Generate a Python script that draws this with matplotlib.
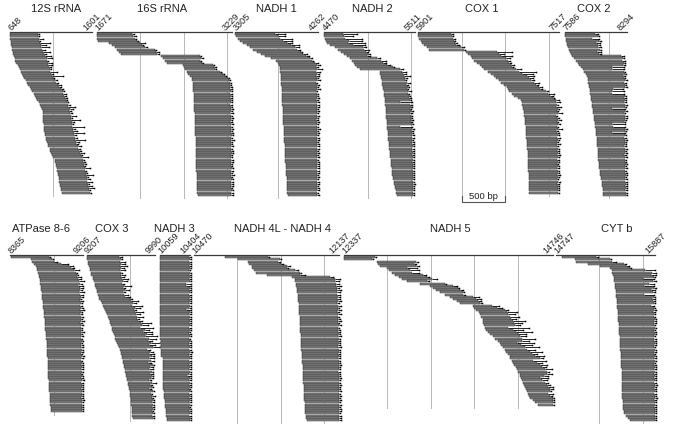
import matplotlib
matplotlib.use('Agg')
import matplotlib.pyplot as plt
import numpy as np

plt.rcParams['font.family'] = ['Liberation Sans', 'DejaVu Sans']

# ---------------- data (bp positions of reads / contigs per gene) ----------------
# 12S rRNA 648-1601
s_12s = [648, 650, 655, 660, 662, 668, 672, 678, 684, 690,
         698, 706, 716, 728, 740, 752, 764, 776, 788, 798,
         815, 832, 848, 864, 880, 896, 912, 926, 940, 954,
         968, 982, 996, 1008, 1018, 1028, 1030, 1032, 1034, 1036,
         1038, 1040, 1042, 1046, 1050, 1054, 1058, 1064, 1070, 1076,
         1085, 1096, 1108, 1118, 1128, 1140, 1152, 1166, 1172, 1178,
         1184, 1190, 1196, 1202, 1208, 1212, 1218, 1222, 1226, 1230,
         1236, 1240, 1246]
e_12s = [970, 975, 990, 985, 995, 1005, 1010, 1025, 1030, 1045,
         1060, 1074, 1080, 1090, 1095, 1105, 1108, 1118, 1122, 1131,
         1150, 1172, 1188, 1205, 1222, 1240, 1258, 1262, 1278, 1285,
         1298, 1305, 1318, 1325, 1338, 1336, 1348, 1350, 1356, 1352,
         1362, 1365, 1370, 1378, 1380, 1388, 1392, 1400, 1405, 1412,
         1418, 1430, 1440, 1452, 1460, 1472, 1478, 1490, 1494, 1502,
         1505, 1514, 1518, 1524, 1528, 1536, 1538, 1544, 1548, 1554,
         1558, 1564, 1568]
x_12s = [20, 15, 40, 15, 120, 60, 90, 30, 80, 20,
         70, 60, 15, 50, 40, 15, 20, 80, 30, 130,
         15, 20, 15, 40, 15, 20, 15, 30, 15, 20,
         15, 15, 20, 80, 40, 15, 20, 60, 15, 110,
         30, 15, 140, 20, 40, 120, 15, 20, 110, 30,
         15, 40, 15, 20, 50, 15, 70, 15, 20, 30,
         15, 60, 15, 20, 80, 15, 30, 50, 15, 40,
         60, 15, 20]

# 16S rRNA 1671-3229
s_16s = [1671, 1675, 1680, 1690, 1820, 1850, 1880, 1912, 1935, 1958,
         2418, 2430, 2453, 2476, 2660, 2672, 2683, 2706, 2725, 2745,
         2764, 2770, 2775, 2778, 2780, 2782, 2784, 2786, 2786, 2788,
         2790, 2790, 2792, 2794, 2794, 2796, 2798, 2798, 2800, 2800,
         2802, 2804, 2804, 2806, 2806, 2808, 2808, 2810, 2810, 2812,
         2812, 2812, 2814, 2814, 2816, 2816, 2816, 2818, 2818, 2818,
         2820, 2820, 2820, 2822, 2822, 2822, 2824, 2824, 2826, 2826,
         2828, 2828, 2830, 2832]
e_16s = [2074, 2090, 2108, 2131, 2166, 2190, 2223, 2338, 2350, 2372,
         2856, 2870, 2856, 2880, 3005, 3020, 3028, 3086, 3120, 3143,
         3178, 3190, 3200, 3205, 3210, 3200, 3212, 3208, 3215, 3205,
         3212, 3218, 3210, 3215, 3220, 3212, 3208, 3218, 3222, 3215,
         3210, 3220, 3216, 3222, 3212, 3218, 3224, 3215, 3220, 3212,
         3218, 3222, 3214, 3220, 3224, 3216, 3212, 3220, 3222, 3218,
         3215, 3224, 3220, 3216, 3222, 3218, 3224, 3220, 3215, 3222,
         3218, 3224, 3220, 3222]
x_16s = [30, 40, 15, 20, 60, 15, 30, 20, 40, 15,
         15, 25, 15, 15, 20, 30, 15, 15, 20, 15,
         15, 20, 15, 15, 20, 30, 15, 15, 15, 20,
         15, 15, 15, 15, 25, 15, 30, 15, 15, 15,
         20, 15, 15, 15, 15, 25, 15, 15, 30, 15,
         15, 15, 20, 15, 15, 15, 15, 25, 15, 15,
         15, 20, 15, 15, 30, 15, 15, 15, 20, 15,
         15, 15, 20, 15]

# NADH 1 3305-4262
s_n1 = [3305, 3315, 3340, 3362, 3400, 3440, 3480, 3512, 3560, 3600,
        3650, 3720, 3780, 3800, 3815,
        3822, 3824, 3826, 3828, 3830, 3832, 3834, 3836, 3838, 3840,
        3841, 3842, 3844, 3845, 3846, 3848, 3849, 3850, 3852, 3853,
        3854, 3856, 3857, 3858, 3860, 3861, 3862, 3864, 3865, 3866,
        3868, 3869, 3870, 3872, 3873, 3874, 3876, 3877, 3878, 3880,
        3881, 3882, 3884, 3885, 3886, 3888, 3890, 3892, 3894, 3896,
        3898, 3899, 3900, 3902, 3903, 3905, 3906, 3908, 3912]
e_n1 = [3765, 3800, 3820, 3860, 3900, 3950, 3995, 4020, 4060, 4087,
        4120, 4168, 4190, 4220, 4248,
        4235, 4242, 4238, 4248, 4240, 4244, 4250, 4238, 4246, 4242,
        4250, 4236, 4248, 4244, 4252, 4240, 4246, 4250, 4242, 4248,
        4252, 4244, 4250, 4246, 4240, 4252, 4248, 4244, 4250, 4246,
        4252, 4242, 4248, 4250, 4246, 4252, 4244, 4250, 4248, 4252,
        4246, 4250, 4244, 4252, 4248, 4250, 4252, 4248, 4250, 4246,
        4252, 4248, 4250, 4252, 4246, 4250, 4252, 4248, 4250]
x_n1 = [120, 80, 140, 100, 60, 90, 40, 30, 20, 50,
        30, 20, 15, 40, 30, 20, 60, 40, 20, 30,
        15, 30, 15, 20, 15, 30, 15, 15, 20, 15,
        15, 20, 15, 30, 15, 15, 15, 25, 15, 15,
        20, 15, 15, 30, 15, 15, 15, 20, 15, 15,
        15, 25, 15, 15, 20, 15, 15, 15, 15, 20,
        15, 15, 20, 15, 15, 15, 15, 20, 15, 15,
        15, 20, 15, 15]

# NADH 2 4470-5511
s_n2 = [4470, 4472, 4482, 4490, 4505, 4539, 4596, 4630, 4660, 4700,
        4734, 4769, 4790, 4810, 4826, 4850, 4884,
        5114, 5118, 5123, 5128, 5132, 5137, 5141, 5146, 5150, 5155,
        5159, 5163, 5168, 5172, 5174, 5176, 5178, 5180, 5182, 5184,
        5186, 5188, 5190, 5192, 5194, 5196, 5198, 5200, 5202, 5204,
        5206, 5209, 5212, 5215, 5218, 5221, 5224, 5227, 5230, 5233,
        5236, 5239, 5242, 5245, 5248, 5251, 5254, 5257, 5260, 5264,
        5270, 5276, 5282, 5288, 5294, 5300, 5310]
e_n2 = [4688, 4700, 4712, 4760, 4746, 4804, 4918, 4930, 4950, 4976,
        4960, 5080, 5120, 5148, 5194, 5260, 5344,
        5367, 5380, 5395, 5405, 5400, 5420, 5415, 5430, 5425, 5440,
        5436, 5445, 5450, 5455, 5344, 5460, 5465, 5458, 5470, 5462,
        5472, 5468, 5475, 5470, 5478, 5344, 5480, 5474, 5482, 5478,
        5484, 5480, 5486, 5482, 5488, 5484, 5486, 5490, 5485, 5488,
        5490, 5486, 5490, 5488, 5492, 5490, 5488, 5492, 5490, 5494,
        5490, 5492, 5494, 5490, 5494, 5492, 5494]
x_n2 = [160, 100, 200, 150, 190, 140, 40, 60, 30, 20,
        40, 30, 60, 40, 30, 20, 30, 40, 30, 60,
        20, 15, 40, 15, 20, 15, 30, 15, 15, 20,
        15, 140, 20, 15, 15, 25, 15, 15, 15, 20,
        15, 15, 140, 20, 15, 15, 25, 15, 15, 15,
        20, 15, 15, 15, 15, 20, 15, 15, 15, 20,
        15, 15, 15, 20, 15, 15, 15, 15, 20, 15,
        15, 15, 15, 15]

# COX 1 5901-7517
s_c1 = [5901, 5905, 5912, 5936, 5950, 5970, 6000, 6028,
        6453, 6480, 6510, 6522, 6550, 6580, 6610, 6637,
        6660, 6700, 6740, 6775, 6800, 6830, 6860, 6890, 6924, 6935,
        6948, 6980, 7010, 7050, 7086,
        7095, 7100, 7105, 7110, 7114, 7118, 7122, 7126, 7130, 7134,
        7136, 7138, 7140, 7142, 7144, 7146, 7148, 7150, 7152, 7154,
        7156, 7158, 7160, 7162, 7164, 7164, 7166, 7166, 7168, 7168,
        7170, 7170, 7172, 7172, 7174, 7174, 7176, 7176, 7178, 7178,
        7180, 7180]
e_c1 = [6280, 6290, 6300, 6315, 6330, 6338, 6400, 6430,
        6810, 6830, 6850, 6913, 6930, 6950, 6970, 6982,
        7028, 7060, 7100, 7150, 7178, 7200, 7230, 7260, 7292, 7300,
        7373, 7400, 7420, 7450, 7488,
        7490, 7500, 7485, 7505, 7495, 7510, 7488, 7500, 7508, 7495,
        7505, 7498, 7510, 7490, 7502, 7506, 7496, 7510, 7500, 7504,
        7494, 7508, 7500, 7505, 7498, 7510, 7502, 7506, 7496, 7508,
        7500, 7505, 7510, 7502, 7506, 7500, 7508, 7504, 7510, 7506,
        7508, 7510]
x_c1 = [20, 15, 30, 15, 20, 40, 30, 15, 170, 60,
        130, 40, 30, 20, 40, 15, 60, 200, 120, 80,
        40, 30, 60, 20, 40, 30, 20, 60, 30, 15,
        30, 40, 15, 60, 20, 15, 50, 15, 20, 40,
        15, 30, 15, 50, 15, 20, 15, 40, 15, 15,
        30, 15, 15, 20, 15, 40, 15, 15, 20, 15,
        15, 20, 15, 15, 30, 15, 15, 20, 15, 15,
        20, 15, 15]

# COX 2 7586-8294
s_c2 = [7586, 7588, 7592, 7598, 7604, 7612, 7620, 7630, 7640, 7650,
        7666, 7690, 7710, 7730, 7750, 7770, 7790, 7810, 7825, 7839,
        7845, 7850, 7855, 7860, 7864, 7868, 7872, 7876, 7880, 7884,
        7888, 7892, 7896, 7900, 7904, 7908, 7912, 7916, 7920, 7924,
        7928, 7932, 7936, 7940, 7944,
        7946, 7948, 7950, 7952, 7954, 7956, 7958, 7960, 7962, 7964,
        7966, 7968, 7970, 7972, 7975,
        7978, 7982, 7986, 7990, 7994, 7998, 8002, 8006, 8010, 8014,
        8018, 8020, 8022, 8023]
e_c2 = [7930, 7960, 7900, 7980, 7940, 7970, 7960, 7990, 7950, 7980,
        8230, 8250, 8240, 8265, 8255, 8130, 8127, 8260, 8270, 8250,
        8265, 8275, 8260, 8270, 8280, 8138, 8130, 8127, 8270, 8265,
        8275, 8260, 8280, 8270, 8130, 8275, 8265, 8280, 8270, 8275,
        8260, 8127, 8135, 8280, 8270, 8130, 8275, 8265, 8280, 8270,
        8275, 8268, 8280, 8272, 8278, 8265, 8280, 8275, 8270, 8282,
        8276, 8280, 8272, 8278, 8282, 8275, 8280, 8278, 8284, 8280,
        8282, 8280, 8284, 8282]
x_c2 = [40, 20, 80, 15, 50, 20, 40, 15, 50, 20,
        30, 15, 40, 15, 20, 130, 140, 15, 20, 30,
        15, 20, 30, 15, 15, 120, 130, 140, 15, 20,
        15, 30, 15, 15, 140, 20, 15, 15, 30, 15,
        20, 150, 140, 15, 15, 140, 15, 20, 15, 15,
        15, 20, 15, 15, 15, 20, 15, 15, 20, 15,
        15, 15, 20, 15, 15, 15, 15, 20, 15, 15,
        15, 15, 15, 15]

# ATPase 8-6 8365-9206
s_at = [8376, 8606, 8620, 8640, 8664, 8670, 8680, 8690, 8698,
        8700, 8705, 8710, 8714, 8718, 8722, 8726, 8730, 8733, 8736,
        8738, 8741, 8744, 8747, 8750, 8753, 8756, 8758, 8760, 8762,
        8764, 8766, 8768, 8770, 8772, 8775, 8778, 8781, 8784, 8787,
        8790, 8791, 8792, 8793, 8794, 8795, 8796, 8797, 8798, 8799,
        8800, 8801, 8802, 8803, 8804, 8805, 8806, 8808, 8810, 8812,
        8814, 8816, 8818, 8820, 8822, 8824, 8826, 8828, 8830, 8832, 8834, 8836]
e_at = [8814, 8848, 8871, 8950, 9044, 9066, 9100, 9120, 9136,
        9136, 9150, 9160, 9170, 9150, 9165, 9175, 9160, 9170, 9180,
        9165, 9175, 9180, 9170, 9185, 9175, 9180, 9170, 9185, 9178,
        9182, 9175, 9185, 9180, 9178, 9186, 9180, 9184, 9176, 9188,
        9182, 9186, 9180, 9188, 9184, 9180, 9190, 9185, 9182, 9188,
        9186, 9190, 9184, 9188, 9182, 9190, 9186, 9188, 9184, 9190,
        9188, 9186, 9190, 9188, 9192, 9186, 9190, 9188, 9192, 9190, 9188, 9193]
x_at = [15, 15, 30, 80, 40, 30, 60, 20, 15, 40,
        30, 60, 20, 50, 40, 15, 60, 30, 20, 15,
        30, 15, 20, 15, 40, 15, 20, 15, 15, 30,
        15, 20, 15, 15, 25, 15, 15, 20, 15, 15,
        15, 20, 15, 15, 15, 25, 15, 15, 20, 15,
        15, 15, 20, 15, 15, 15, 25, 15, 15, 15,
        20, 15, 15, 15, 15, 20, 15, 15, 15, 15,
        15]

# COX 3 9207-9990
s_c3 = [9207, 9212, 9220, 9228, 9236, 9244, 9250, 9256, 9264, 9276,
        9284, 9292, 9300, 9308, 9316, 9324, 9332, 9340, 9348, 9356,
        9368, 9380, 9392, 9404, 9416, 9428, 9440, 9452, 9464, 9472,
        9480, 9488, 9496, 9504, 9512, 9520, 9530, 9540, 9550, 9560, 9572, 9586,
        9592, 9598, 9604, 9610, 9616, 9622, 9628, 9634, 9640, 9646, 9652, 9658,
        9664, 9670, 9676, 9682, 9688, 9694, 9698, 9702, 9706, 9710,
        9714, 9717, 9720, 9723, 9726, 9728, 9730, 9732, 9734, 9736]
e_c3 = [9586, 9600, 9590, 9609, 9595, 9605, 9590, 9600, 9609,
        9609, 9620, 9630, 9615, 9640, 9625, 9644, 9630, 9640, 9644,
        9702, 9720, 9740, 9730, 9760, 9750, 9770, 9780, 9793, 9785,
        9800, 9830, 9850, 9820, 9880, 9860, 9900, 9880, 9930, 9910, 9950, 9930, 9966,
        9900, 9940, 9920, 9960, 9930, 9950, 9910, 9966, 9940, 9920, 9955,
        9935, 9960, 9945, 9925, 9962, 9940, 9955, 9930, 9966, 9950, 9960,
        9960, 9966, 9962, 9966, 9964, 9966, 9962, 9966, 9964, 9966]
x_c3 = [30, 20, 60, 40, 80, 30, 60, 20, 40, 30,
        60, 40, 20, 80, 30, 50, 20, 40, 60, 30,
        80, 40, 120, 60, 30, 90, 40, 60, 30, 50,
        120, 60, 150, 40, 100, 60, 140, 80, 50, 120,
        60, 90, 40, 30, 60, 20, 50, 30, 40, 20,
        30, 50, 20, 40, 15, 30, 20, 40, 15, 20,
        15, 20, 15, 30, 15, 15, 20, 15, 15, 15,
        15, 15, 15, 15]

# NADH 3 10059-10404
s_n3 = [10059, 10060, 10059, 10061, 10059, 10060, 10062, 10059, 10060, 10061,
        10059, 10060, 10062, 10060, 10059, 10061, 10060, 10062, 10060, 10061,
        10060, 10062, 10061, 10060, 10063, 10061, 10062, 10060, 10063, 10062,
        10061, 10063, 10062, 10064, 10062, 10063, 10064, 10063, 10065, 10064,
        10065, 10064, 10066, 10065, 10068, 10070, 10090, 10092, 10094, 10094,
        10095, 10094, 10096, 10095, 10096, 10097, 10096, 10098, 10097, 10098,
        10099, 10100, 10100, 10102, 10110, 10116, 10118, 10120, 10122, 10124,
        10126, 10128, 10132, 10136, 10140]
e_n3 = [10395, 10400, 10398, 10402, 10396, 10400, 10398, 10403, 10396, 10400,
        10398, 10402, 10355, 10360, 10400, 10396, 10402, 10398, 10400, 10396,
        10402, 10398, 10400, 10396, 10360, 10400, 10398, 10402, 10396, 10400,
        10398, 10402, 10396, 10400, 10398, 10392, 10400, 10396, 10402, 10398,
        10396, 10400, 10398, 10402, 10390, 10396, 10400, 10398, 10402, 10396,
        10400, 10396, 10402, 10398, 10370, 10400, 10396, 10402, 10398, 10400,
        10396, 10402, 10398, 10400, 10396, 10402, 10398, 10400, 10396, 10402,
        10398, 10400, 10396, 10402, 10400]
x_n3 = [15, 10, 15, 10, 20, 15, 10, 15, 20, 10,
        15, 10, 55, 50, 15, 20, 10, 15, 10, 20,
        10, 15, 20, 15, 50, 10, 15, 10, 20, 15,
        15, 10, 20, 15, 10, 20, 15, 10, 15, 20,
        15, 10, 15, 20, 25, 15, 10, 15, 10, 20,
        15, 20, 10, 15, 40, 10, 15, 10, 20, 15,
        10, 15, 20, 10, 15, 10, 15, 20, 10, 15,
        15, 10, 15, 10, 15]

# NADH 4L - NADH 4 10470-12137
s_n4 = [10827, 10976, 11091, 11110, 11137, 11148, 11170, 11194, 11320, 11600,
        11632, 11640, 11645, 11650, 11654, 11658, 11662, 11666, 11670, 11673,
        11676, 11678, 11680, 11682, 11684, 11686, 11688, 11690, 11692, 11694,
        11695, 11696, 11697, 11698, 11699, 11700, 11701, 11702, 11703, 11704,
        11706, 11708, 11710, 11712, 11714, 11716, 11718, 11720, 11722, 11724,
        11725, 11726, 11727, 11728, 11729, 11730, 11732, 11734, 11736, 11738,
        11740, 11741, 11742, 11743, 11744, 11745, 11746, 11747, 11748, 11749,
        11752, 11756, 11760, 11765, 11770]
e_n4 = [11321, 11459, 11436, 11480, 11540, 11540, 11640, 11689, 11689, 12034,
        12092, 12100, 12110, 12105, 12120, 12115, 12125, 12118, 12130, 12122,
        12128, 12120, 12132, 12126, 12130, 12124, 12134, 12128, 12136, 12130,
        12132, 12138, 12128, 12136, 12132, 12140, 12130, 12138, 12134, 12140,
        12136, 12132, 12140, 12138, 12134, 12142, 12136, 12140, 12138, 12142,
        12138, 12142, 12136, 12144, 12140, 12138, 12144, 12140, 12142, 12138,
        12144, 12140, 12142, 12146, 12140, 12144, 12142, 12146, 12144, 12140,
        12146, 12144, 12148, 12146, 12148]
x_n4 = [15, 15, 30, 15, 40, 20, 30, 15, 60, 40,
        60, 40, 30, 60, 20, 50, 30, 40, 20, 30,
        40, 20, 30, 15, 40, 20, 30, 15, 20, 30,
        15, 30, 20, 15, 25, 15, 30, 15, 20, 15,
        20, 30, 15, 15, 25, 15, 20, 15, 15, 20,
        15, 15, 20, 15, 15, 25, 15, 15, 20, 15,
        15, 20, 15, 15, 15, 20, 15, 15, 15, 20,
        15, 15, 15, 15, 15]

# NADH 5 12337-14746
s_n5 = [12337, 12345, 12717, 12735, 12751, 12832, 12860, 12900,
        12930, 12970, 13004, 13062, 13211,
        13326, 13360, 13400, 13441, 13498, 13556, 13600, 13640, 13671,
        13820, 13840, 13860,
        13900, 13910, 13920, 13936, 13936, 13940, 13950,
        13960, 13980, 14000, 14020, 14050, 14080, 14110,
        14131, 14150, 14170, 14190, 14210, 14230, 14246, 14255,
        14269, 14285, 14300, 14315, 14330, 14345, 14361, 14370,
        14380, 14390, 14400, 14410, 14420, 14430, 14442, 14455, 14470,
        14476, 14510, 14540, 14568]
e_n5 = [12694, 12660, 13176, 13150, 13176, 13062, 13100, 13130,
        13246, 13300, 13349, 13292, 13500,
        13600, 13650, 13680, 13706, 13706, 13820, 13860, 13880, 13901,
        14039, 14100, 14188,
        14212, 14230, 14250, 14260, 14280, 14300, 14304,
        14223, 14280, 14320, 14340, 14370, 14384, 14384,
        14326, 14380, 14420, 14450, 14480, 14500, 14540, 14591,
        14510, 14560, 14590, 14620, 14650, 14672, 14672, 14640,
        14591, 14620, 14650, 14680, 14690, 14706, 14706, 14690, 14706,
        14740, 14740, 14740, 14740]
x_n5 = [20, 15, 20, 15, 30, 120, 100, 70, 40, 20,
        60, 30, 20, 40, 15, 30, 20, 30, 80, 60,
        40, 30, 90, 60, 40, 120, 80, 100, 60, 140,
        90, 60, 250, 120, 180, 100, 60, 150, 80, 200,
        120, 160, 90, 140, 60, 100, 40, 150, 60, 90,
        40, 80, 30, 60, 50, 100, 60, 40, 30, 50,
        40, 20, 60, 30, 15, 15, 15, 15]

# CYT b 14747-15887
s_cb = [14816, 14966, 14988, 15115, 15253, 15368,
        15391, 15400, 15408, 15414, 15420, 15424, 15428, 15432, 15436, 15440,
        15443, 15446, 15448, 15450, 15452, 15454, 15456, 15458, 15460, 15462,
        15464, 15466, 15468, 15470, 15472, 15474, 15476, 15478, 15480, 15482,
        15483, 15484, 15486, 15488, 15490, 15492, 15494, 15496, 15498, 15500,
        15501, 15502, 15503, 15504, 15505, 15506, 15507, 15508, 15509, 15510,
        15511, 15512, 15512, 15513, 15514, 15515, 15516, 15516, 15517, 15518,
        15519, 15520, 15522, 15526, 15532, 15540, 15563, 15580, 15598]
e_cb = [15218, 15368, 15400, 15540, 15563, 15598,
        15780, 15860, 15840, 15880, 15750, 15870, 15820, 15760, 15880, 15850,
        15870, 15760, 15880, 15860, 15870, 15880, 15850, 15876, 15884, 15870,
        15880, 15874, 15886, 15878, 15884, 15880, 15886, 15876, 15882, 15886,
        15880, 15884, 15878, 15886, 15882, 15880, 15886, 15884, 15880, 15886,
        15882, 15886, 15880, 15884, 15886, 15882, 15886, 15884, 15888, 15882,
        15886, 15884, 15888, 15886, 15882, 15888, 15884, 15886, 15888, 15884,
        15886, 15888, 15884, 15888, 15886, 15888, 15886, 15888, 15886]
x_cb = [20, 15, 40, 20, 30, 15, 110, 40, 60, 15,
        130, 30, 60, 120, 20, 40, 20, 120, 15, 30,
        20, 15, 30, 15, 15, 20, 15, 15, 15, 20,
        15, 15, 15, 20, 15, 15, 15, 15, 20, 15,
        15, 15, 20, 15, 15, 15, 15, 20, 15, 15,
        15, 15, 15, 20, 15, 15, 15, 15, 20, 15,
        15, 15, 15, 15, 20, 15, 15, 15, 15, 15,
        15, 15, 15, 15, 15]

# gene name, start, end
top_genes = [('12S rRNA', 648, 1601), ('16S rRNA', 1671, 3229), ('NADH 1', 3305, 4262),
             ('NADH 2', 4470, 5511), ('COX 1', 5901, 7517), ('COX 2', 7586, 8294)]
bot_genes = [('ATPase 8-6', 8365, 9206), ('COX 3', 9207, 9990), ('NADH 3', 10059, 10404),
             ('NADH 4L - NADH 4', 10470, 12137), ('NADH 5', 12337, 14746), ('CYT b', 14747, 15887)]
top_reads = [(s_12s, e_12s, x_12s), (s_16s, e_16s, x_16s), (s_n1, e_n1, x_n1),
             (s_n2, e_n2, x_n2), (s_c1, e_c1, x_c1), (s_c2, e_c2, x_c2)]
bot_reads = [(s_at, e_at, x_at), (s_c3, e_c3, x_c3), (s_n3, e_n3, x_n3),
             (s_n4, e_n4, x_n4), (s_n5, e_n5, x_n5), (s_cb, e_cb, x_cb)]

# ---------------- layout (pixels) ----------------
W, H = 673, 427
BP_PX = 0.087      # pixels per bp
PITCH = 2.2        # pixels per row
NROW = 76
top_x0 = [9.5, 96.5, 235, 324, 418, 565]
bot_x0 = [10, 86.5, 160, 193.5, 343.5, 555.5]
top_tx = [56, 162, 276, 372, 482, 594]
bot_tx = [41, 112, 174, 283, 450, 617]

fig = plt.figure(figsize=(W / 100, H / 100), dpi=100)


def panel(gene, reads, x0, top, tx, ty):
    name, gs, ge = gene
    s, e, x = reads
    assert len(s) == len(e) == len(x), (name, len(s), len(e), len(x))
    w = (ge - gs) * BP_PX
    h = NROW * PITCH
    ax = fig.add_axes([x0 / W, 1 - (top + h) / H, w / W, h / H])
    ax.set_xlim(gs, ge)
    ax.set_ylim(NROW - 1, -1)
    ax.axis('off')
    s = np.array(s)
    e = np.array(e)
    t = e + np.array(x)
    n = len(s)
    rows = np.arange(n)
    g = gs + 500
    while g < ge:
        ax.plot([g, g], [-1, n + 0.5], color='#b8b8b8', lw=0.7, zorder=1, clip_on=False)
        g += 500
    ax.barh(rows, e - s, left=s, height=0.86, color='#878787', edgecolor='#1e1e1e',
            linewidth=0.3, zorder=2, clip_on=False)
    ax.hlines(rows, e, t, color='black', lw=0.6, zorder=3, clip_on=False)
    ax.plot(t, rows, 's', color='black', ms=1.1, mew=0, zorder=3, clip_on=False)
    ax.plot([gs, ge], [-1, -1], color='#3a3a3a', lw=0.9, zorder=4, clip_on=False)
    for pos, dx in ((gs, 3), (ge, -5)):
        ax.annotate(str(pos), (pos, -1), xytext=(dx, 1), textcoords='offset pixels',
                    rotation=45, rotation_mode='anchor', ha='left', va='bottom',
                    fontsize=6.6, color='#222222')
    fig.text(tx / W, 1 - ty / H, name, ha='center', va='center', fontsize=8, color='#222222')
    return ax


axes_top = [panel(g, r, x0, 33, tx, 9) for g, r, x0, tx in zip(top_genes, top_reads, top_x0, top_tx)]
axes_bot = [panel(g, r, x0, 256, tx, 229) for g, r, x0, tx in zip(bot_genes, bot_reads, bot_x0, bot_tx)]

# scale bar (500 bp) under COX 1
ax = axes_top[4]
ax.plot([6401, 6401, 6901, 6901], [73.5, 76.3, 76.3, 73.5], color='#555555', lw=0.8, clip_on=False)
ax.text(6651, 73.3, '500 bp', ha='center', va='center', fontsize=6.8, color='#222222')

fig.savefig('out.png', dpi=100)
